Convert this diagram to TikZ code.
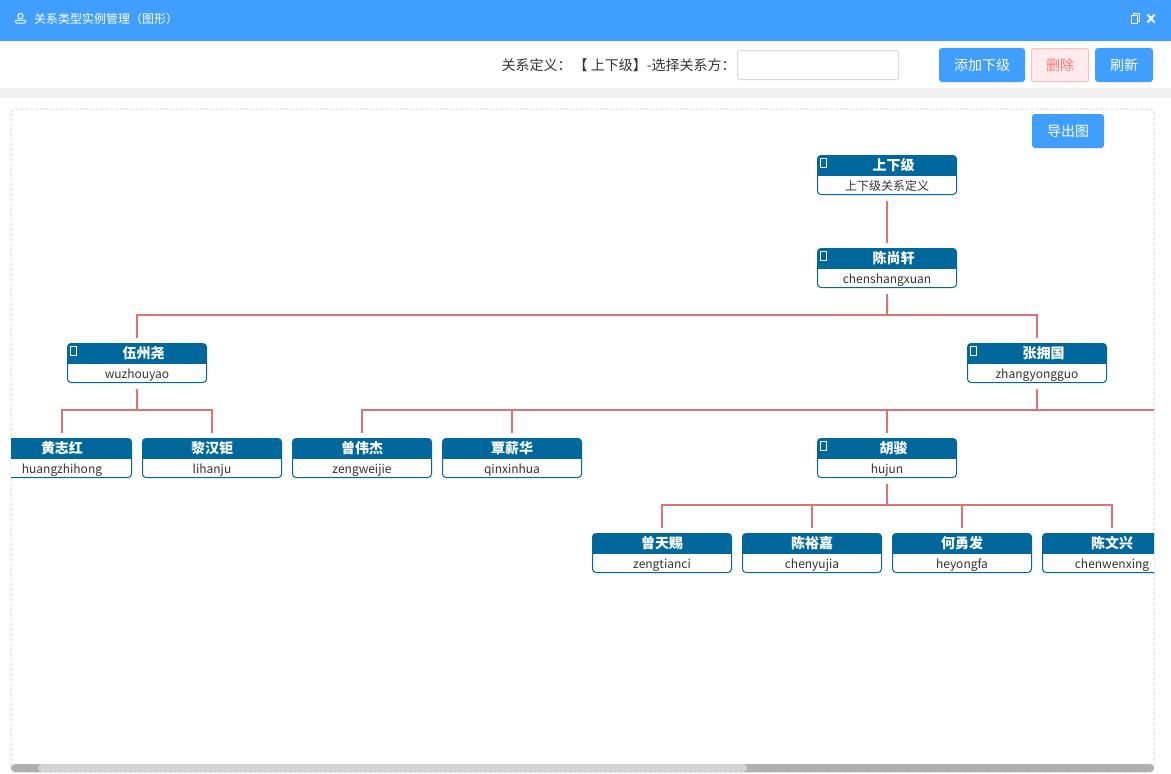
\documentclass[tikz,border=0pt]{standalone}
\usepackage{fontspec}
\setmainfont{Noto Sans CJK SC}
\usetikzlibrary{positioning}
\definecolor{barblue}{HTML}{409EFF}
\definecolor{cardblue}{HTML}{00689D}
\definecolor{linkred}{HTML}{E07272}
\definecolor{inkgray}{HTML}{333333}
\definecolor{panelgray}{HTML}{D8D8D8}
\definecolor{trackgray}{HTML}{B0B0B0}
\definecolor{thumbgray}{HTML}{D3D3D7}
\newcommand{\cardtext}[2]{{\color{white}\bfseries\fontsize{14}{14}\selectfont\rule[-4pt]{0pt}{19pt}#1}\\{\color{inkgray}\fontsize{12}{12}\selectfont\rule[-4pt]{0pt}{19pt}#2}}
\tikzset{
  card/.style={rectangle, rounded corners=3.5pt, draw=cardblue, line width=1pt, fill=white, minimum width=139pt, minimum height=39pt, inner sep=0pt, outer sep=0.5pt, align=center,
    path picture={\fill[cardblue, sharp corners] (path picture bounding box.north west) rectangle ([yshift=-20.5pt]path picture bounding box.north east);}},
  icon/.style={rectangle, draw=white, line width=1pt, minimum width=6pt, minimum height=9pt, inner sep=0pt, outer sep=0.5pt},
  link/.style={draw=linkred, line width=2pt, shorten <=6pt, shorten >=5pt},
  bluebtn/.style={rectangle, rounded corners=3pt, fill=barblue, text=white, font=\fontsize{14}{14}\selectfont, minimum height=34pt, inner sep=0pt},
  redbtn/.style={rectangle, rounded corners=2pt, fill=red!8, draw=red!25, line width=1pt, text=red!55, font=\fontsize{14}{14}\selectfont, minimum width=57pt, minimum height=33pt, inner sep=0pt}
}
\begin{document}
\begin{tikzpicture}[x=1pt, y=-1pt]
\useasboundingbox (0,0) rectangle (1171,774);

% Window
\fill [white] (0,0) rectangle (1171,774);
\fill [barblue] (0,0) rectangle (1171,41);
\fill [black!6] (0,88) rectangle (1171,98);
\draw [panelgray, dash pattern=on 3pt off 2pt, line width=1pt, rounded corners=4pt] (11,109) rectangle (1154,772);

% Title bar
\node (wintitle) [anchor=west, inner sep=0pt, text=white, font=\fontsize{12}{12}\selectfont] at (34,18.5) {关系类型实例管理（图形）};
\draw [white, line width=1pt] (20.5,16) circle (2.6);
\draw [white, line width=1pt, rounded corners=1pt] (15.5,23) rectangle (25.5,20);
\draw [white, line width=1pt] (1131.5,15.5) rectangle (1137.5,23.5);
\draw [white, line width=1pt] (1133.5,15.5) -- (1133.5,13.5) -- (1139.5,13.5) -- (1139.5,21.5) -- (1137.5,21.5);
\draw [white, line width=2pt] (1147.5,14.5) -- (1154.5,22.5);
\draw [white, line width=2pt] (1154.5,14.5) -- (1147.5,22.5);

% Toolbar
\node (relabel) [anchor=west, inner sep=0pt, text=inkgray, font=\fontsize{14}{14}\selectfont] at (501.5,65) {关系定义：\hspace{2pt}【 上下级】-选择关系方：};
\node (picker) [rectangle, rounded corners=2pt, draw=panelgray, line width=1pt, minimum width=161pt, minimum height=29pt, inner sep=0pt] at (818,65) {};
\node (addbtn) [bluebtn, minimum width=86pt] at (982,65) {添加下级};
\node (delbtn) [redbtn] at (1060,65) {删除};
\node (refreshbtn) [bluebtn, minimum width=58pt] at (1124,65) {刷新};
\node (exportbtn) [bluebtn, minimum width=72pt] at (1068,131) {导出图};

\begin{scope}
\clip (11,109) rectangle (1154,772);

% Nodes
\node (top) [card] at (887,175) {\cardtext{\hspace{13pt}上下级}{上下级关系定义}};
\node (chenshangxuan) [card, below=53pt of top] {\cardtext{\hspace{13pt}陈尚轩}{chenshangxuan}};

\node (wuzhouyao) [card, below=55pt of chenshangxuan, xshift=-750pt] {\cardtext{\hspace{13pt}伍州尧}{wuzhouyao}};
\node (zhangyongguo) [card, below=55pt of chenshangxuan, xshift=150pt] {\cardtext{\hspace{13pt}张拥国}{zhangyongguo}};

\node (huangzhihong) [card, below=55pt of wuzhouyao, xshift=-75pt] {\cardtext{黄志红}{huangzhihong}};
\node (lihanju) [card, right=10pt of huangzhihong] {\cardtext{黎汉钜}{lihanju}};
\node (zengweijie) [card, right=10pt of lihanju] {\cardtext{曾伟杰}{zengweijie}};
\node (qinxinhua) [card, right=10pt of zengweijie] {\cardtext{覃薪华}{qinxinhua}};
\node (hujun) [card, below=55pt of zhangyongguo, xshift=-150pt] {\cardtext{\hspace{13pt}胡骏}{hujun}};

\node (zengtianci) [card, below=55pt of hujun, xshift=-225pt] {\cardtext{曾天赐}{zengtianci}};
\node (chenyujia) [card, right=10pt of zengtianci] {\cardtext{陈裕嘉}{chenyujia}};
\node (heyongfa) [card, right=10pt of chenyujia] {\cardtext{何勇发}{heyongfa}};
\node (chenwenxing) [card, right=10pt of heyongfa] {\cardtext{陈文兴}{chenwenxing}};

\coordinate (offscreen) at (1190,410);

% Icons
\foreach \who in {top, chenshangxuan, wuzhouyao, zhangyongguo, hujun}
  \node (\who icon) [icon, below right=3pt and 3pt of \who.north west] {};

% Arrows
\draw [link] (top) -- (chenshangxuan);

\draw [link] (chenshangxuan.south) -- ++(0,27) -| (wuzhouyao.north);
\draw [link] (chenshangxuan.south) -- ++(0,27) -| (zhangyongguo.north);

\draw [link] (wuzhouyao.south) -- ++(0,27) -| (huangzhihong.north);
\draw [link] (wuzhouyao.south) -- ++(0,27) -| (lihanju.north);

\draw [link] (zhangyongguo.south) -- ++(0,27) -| (zengweijie.north);
\draw [link] (zhangyongguo.south) -- ++(0,27) -| (qinxinhua.north);
\draw [link] (zhangyongguo.south) -- ++(0,27) -| (hujun.north);
\draw [link] (zhangyongguo.south) -- ++(0,27) -- (offscreen);

\draw [link] (hujun.south) -- ++(0,27) -| (zengtianci.north);
\draw [link] (hujun.south) -- ++(0,27) -| (chenyujia.north);
\draw [link] (hujun.south) -- ++(0,27) -| (heyongfa.north);
\draw [link] (hujun.south) -- ++(0,27) -| (chenwenxing.north);
\end{scope}

% Scrollbar
\fill [trackgray, rounded corners=4pt] (11,764) rectangle (1154,772);
\fill [thumbgray, rounded corners=4pt] (38,764) rectangle (747,772);
\end{tikzpicture}
\end{document}
